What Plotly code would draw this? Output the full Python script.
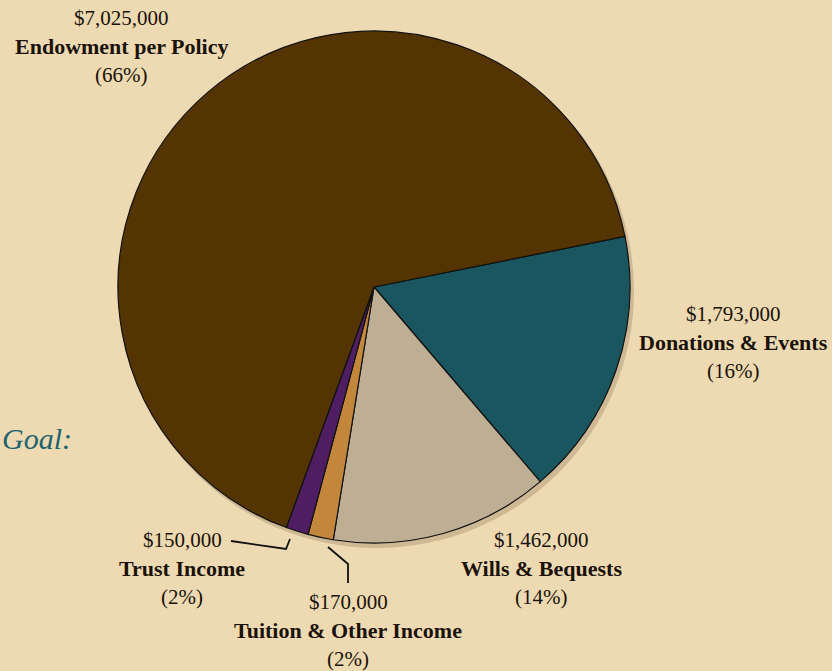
import plotly.graph_objects as go

# ---- data ----
categories = ["Donations & Events", "Wills & Bequests", "Tuition & Other Income",
              "Trust Income", "Endowment per Policy"]
values = [1793000, 1462000, 170000, 150000, 7025000]
percent_labels = ["16%", "14%", "2%", "2%", "66%"]
colors = ["#1a5660", "#bdae94", "#c2873a", "#4e1d62", "#543400"]

W, H = 832, 671
BG = "#eedab2"

# label centre positions in pixels (layout only)
label_pos = {
    "Donations & Events": (733, 314),
    "Wills & Bequests": (541, 540),
    "Tuition & Other Income": (348, 602),
    "Trust Income": (182, 540),
    "Endowment per Policy": (121, 18),
}
LINE = 28.5

def px(x):
    return x / W

def py(y):
    return 1 - y / H

fig = go.Figure()

# pie geometry in pixels
cx, cy, r = 374, 287, 256
fig.add_trace(go.Pie(
    labels=categories,
    values=values,
    sort=False,
    direction="clockwise",
    rotation=78.6,
    marker=dict(colors=colors, line=dict(color="#111111", width=1.2)),
    textinfo="none",
    hoverinfo="label+value+percent",
    showlegend=False,
    domain=dict(x=[px(cx - r), px(cx + r)], y=[py(cy + r), py(cy - r)]),
))

annotations = []
font_family = "Liberation Serif, DejaVu Serif, serif"
for cat, val, pct in zip(categories, values, percent_labels):
    x0, y0 = label_pos[cat]
    lines = [(f"${val:,}", False), (cat, True), (f"({pct})", False)]
    for i, (txt, bold) in enumerate(lines):
        annotations.append(dict(
            x=px(x0), y=py(y0 + i * LINE), xref="paper", yref="paper",
            text=f"<b>{txt}</b>" if bold else txt,
            showarrow=False, xanchor="center", yanchor="middle",
            font=dict(family=font_family, size=22 if bold else 21, color="#1a1208"),
        ))

# partially visible heading on the left
annotations.append(dict(
    x=px(0), y=py(438), xref="paper", yref="paper", text="<i>Goal:</i>",
    showarrow=False, xanchor="left", yanchor="middle",
    font=dict(family="Liberation Serif, serif", size=30, color="#1e6470"),
))

shapes = [
    # faint drop shadow under the pie
    dict(type="circle", xref="paper", yref="paper", layer="below",
         x0=px(cx - r + 2), x1=px(cx + r + 4), y0=py(cy + r + 5), y1=py(cy - r + 3),
         fillcolor="rgba(60,40,10,0.18)", line=dict(width=0)),
    # leader line for Trust Income
    dict(type="path", xref="paper", yref="paper",
         path=f"M {px(231)} {py(541)} L {px(286)} {py(549)} L {px(290)} {py(539)}",
         line=dict(color="#111111", width=1.8)),
    # leader line for Tuition & Other Income
    dict(type="path", xref="paper", yref="paper",
         path=f"M {px(328)} {py(547)} L {px(348)} {py(564)} L {px(348)} {py(583)}",
         line=dict(color="#111111", width=1.8)),
]

fig.update_layout(
    width=W, height=H,
    margin=dict(l=0, r=0, t=0, b=0),
    paper_bgcolor=BG,
    plot_bgcolor=BG,
    annotations=annotations,
    shapes=shapes,
)

fig.write_html(
    "out.html",
    config={"displayModeBar": False},
    post_script=f"document.body.style.margin='0';document.body.style.overflow='hidden';"
                f"document.body.style.background='{BG}';",
)
